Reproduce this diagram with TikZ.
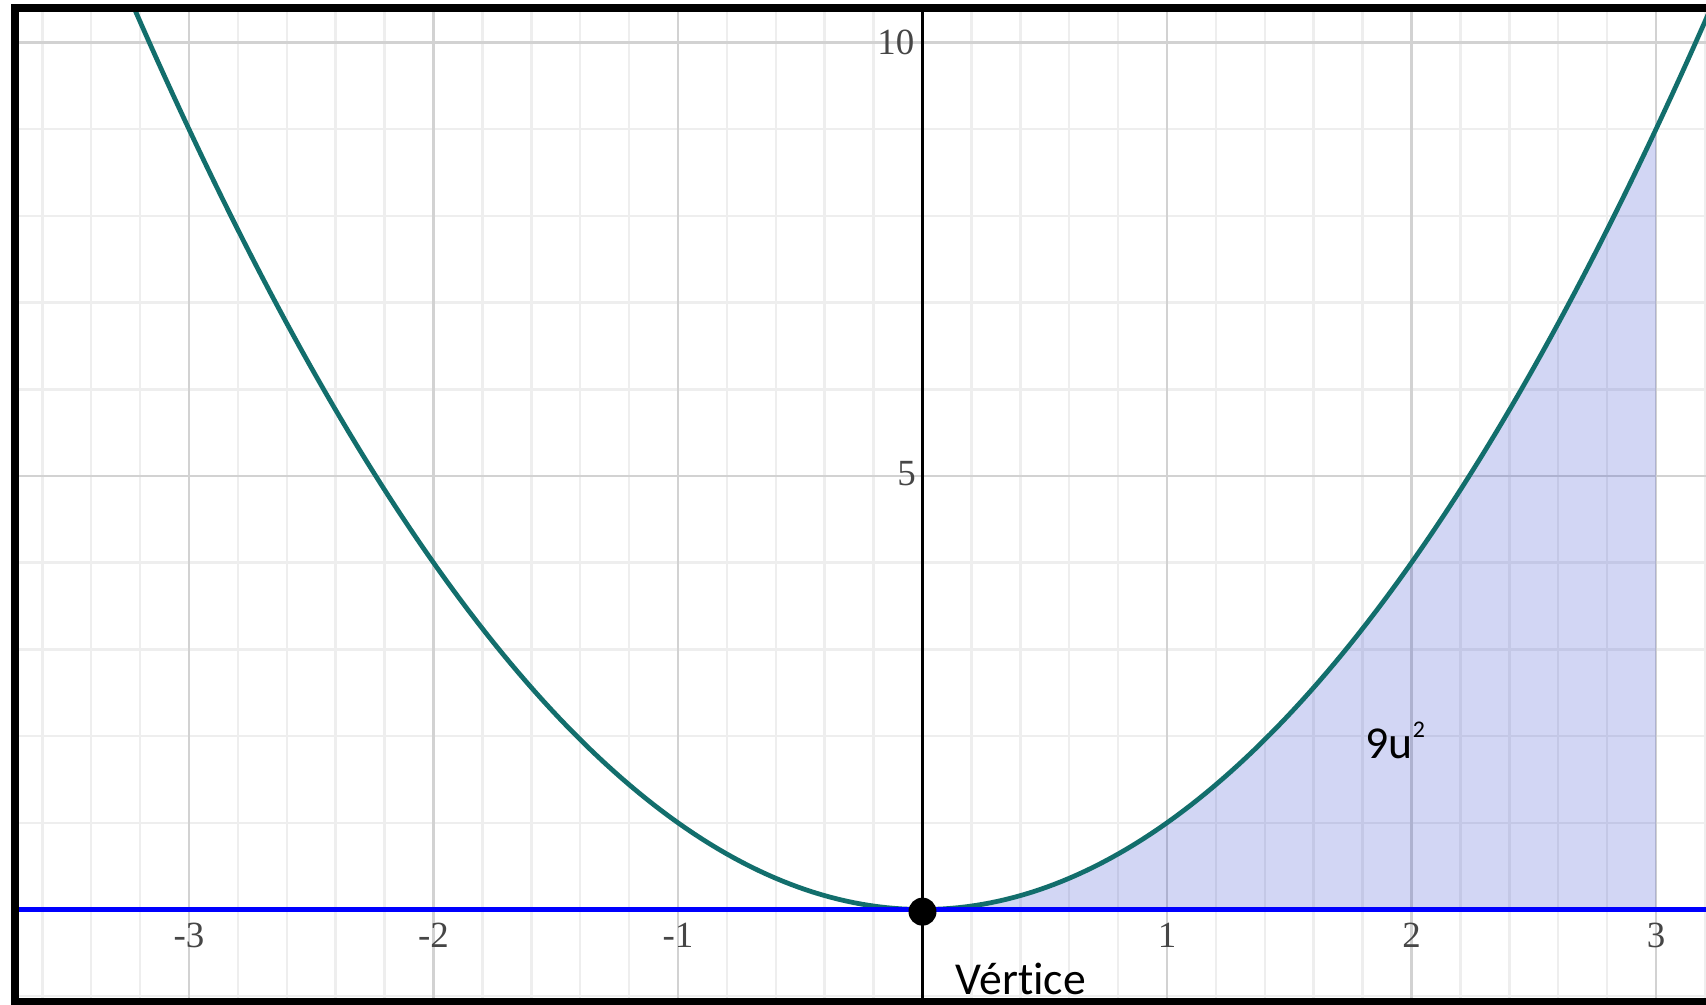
\documentclass[tikz,border=0pt]{standalone}
\usepackage{fontspec}
\setmainfont{Carlito}[Ligatures=NoCommon]
\newfontfamily\tickfont{Liberation Serif}
\definecolor{curvecol}{RGB}{18,110,108}
\definecolor{minorgrid}{RGB}{238,238,238}
\definecolor{majorgrid}{RGB}{210,210,210}
\definecolor{tickgray}{RGB}{70,70,70}
\definecolor{areafill}{RGB}{30,50,200}
\begin{document}
\begin{tikzpicture}[x=2.445cm,y=0.867cm,
  minorline/.style={minorgrid,line width=0.7pt},
  majorline/.style={majorgrid,line width=0.8pt},
  ticklabel/.style={text=tickgray,inner sep=0pt,font=\tickfont\fontsize{10.5}{12}\selectfont},
  textlabel/.style={inner sep=0pt,font=\fontsize{13}{15}\selectfont},
  framebar/.style={fill=black}]
\useasboundingbox (-9.225cm,-0.955cm) rectangle (7.835cm,9.095cm);
\fill[white] (-9.225cm,-0.955cm) rectangle (7.835cm,9.095cm);
\begin{scope}
  \clip (-9.035cm,-0.885cm) rectangle (7.835cm,8.975cm);
  % minor vertical grid
  \foreach \i in {-19,...,16} \draw[minorline] ({\i/5},-1.2) -- ({\i/5},10.6);
  % minor horizontal grid
  \foreach \j in {-1,...,10} \draw[minorline] (-3.8,\j) -- (3.3,\j);
  % major grid
  \foreach \i in {-3,...,3} \draw[majorline] (\i,-1.2) -- (\i,10.6);
  \foreach \j in {5,10} \draw[majorline] (-3.8,\j) -- (3.3,\j);
  % shaded area
  \fill[areafill,opacity=0.2] (0,0) -- plot[domain=0:3,samples=80] (\x,{\x*\x}) -- (3,0) -- cycle;
  % y axis
  \draw[black,line width=0.9pt] (0,-1.2) -- (0,10.6);
  % parabola
  \draw[curvecol,line width=1.35pt] plot[domain=-3.26:3.26,samples=200] (\x,{\x*\x});
  % x axis line y=0
  \draw[blue,line width=1.5pt] (-3.8,0) -- (3.3,0);
\end{scope}
\node[circle,fill=black,inner sep=0pt,minimum size=0.28cm] (vertex) at (0,-0.025) {};
% tick labels
\node[ticklabel,anchor=east] (t10) at (-0.031,10) {10};
\node[ticklabel,anchor=east] (t5) at (-0.024,5.03) {5};
\node[ticklabel] (xm3) at (-3,-0.294) {-3};
\node[ticklabel] (xm2) at (-2,-0.294) {-2};
\node[ticklabel] (xm1) at (-1,-0.294) {-1};
\node[ticklabel] (x1) at (1,-0.294) {1};
\node[ticklabel] (x2) at (2,-0.294) {2};
\node[ticklabel] (x3) at (3,-0.294) {3};
% text labels
\node[textlabel,anchor=base west] (area) at (1.81,1.74) {9u\raisebox{6pt}{\fontsize{6.8}{7}\selectfont 2}};
\node[textlabel,anchor=base west] (vlabel) at (0.133,-0.986) {Vértice};
% frame (left, top, bottom)
\fill[framebar] (-9.115cm,-0.955cm) rectangle (-9.035cm,9.055cm);
\fill[framebar] (-9.115cm,8.975cm) rectangle (7.835cm,9.055cm);
\fill[framebar] (-9.115cm,-0.955cm) rectangle (7.835cm,-0.885cm);
\end{tikzpicture}
\end{document}
